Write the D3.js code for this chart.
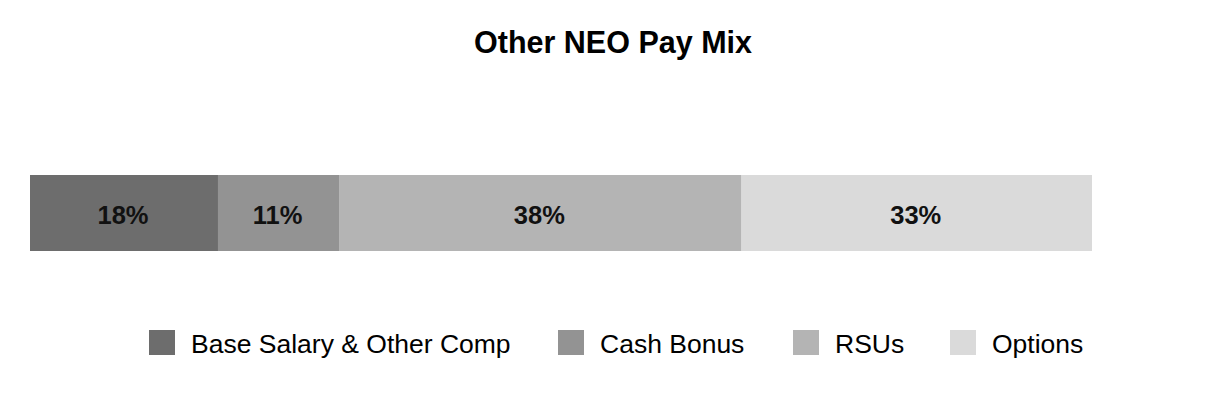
<!DOCTYPE html>
<html><head><meta charset="utf-8">
<script src="https://cdn.jsdelivr.net/npm/d3@7"></script>
<style>body{margin:0;background:#fff}svg{display:block}text{font-family:"Liberation Sans",Arial,sans-serif}</style>
</head><body>
<script>
const categories = ["Base Salary & Other Comp", "Cash Bonus", "RSUs", "Options"];
const values = [17.7, 11.4, 37.9, 33.0];
const labels = ["18%", "11%", "38%", "33%"];
const colors = ["#6d6d6d", "#939393", "#b4b4b4", "#dadada"];
const title = "Other NEO Pay Mix";

const W = 1226, H = 400;
const svg = d3.select("body").append("svg").attr("width", W).attr("height", H);

svg.append("text").attr("x", 613).attr("y", 53).attr("text-anchor", "middle")
  .attr("font-size", 30.5).attr("font-weight", "bold").attr("fill", "#000").text(title);

const x = d3.scaleLinear().domain([0, d3.sum(values)]).range([30, 1092]);
const y = d3.scaleBand().domain(["NEO"]).range([175, 251]).padding(0);

let cum = 0;
const segs = values.map((v, i) => { const s = {v, i, x0: cum, x1: cum + v}; cum += v; return s; });

svg.selectAll("rect.seg").data(segs).join("rect").attr("class", "seg")
  .attr("x", d => x(d.x0)).attr("width", d => x(d.x1) - x(d.x0))
  .attr("y", y("NEO")).attr("height", y.bandwidth())
  .attr("fill", d => colors[d.i]);

svg.selectAll("text.lbl").data(segs).join("text").attr("class", "lbl")
  .attr("x", d => (x(d.x0) + x(d.x1)) / 2 - 1).attr("y", 224)
  .attr("text-anchor", "middle").attr("font-size", 25.5).attr("font-weight", "bold")
  .attr("fill", "#111").text(d => labels[d.i]);

const legX = [149, 558, 793, 950];
const lg = svg.selectAll("g.leg").data(categories).join("g").attr("class", "leg")
  .attr("transform", (d, i) => `translate(${legX[i]},330)`);
lg.append("rect").attr("width", 26).attr("height", 25).attr("fill", (d, i) => colors[i]);
lg.append("text").attr("x", 42).attr("y", 23).attr("font-size", 26.5).attr("fill", "#000").text(d => d);
</script>
</body></html>
